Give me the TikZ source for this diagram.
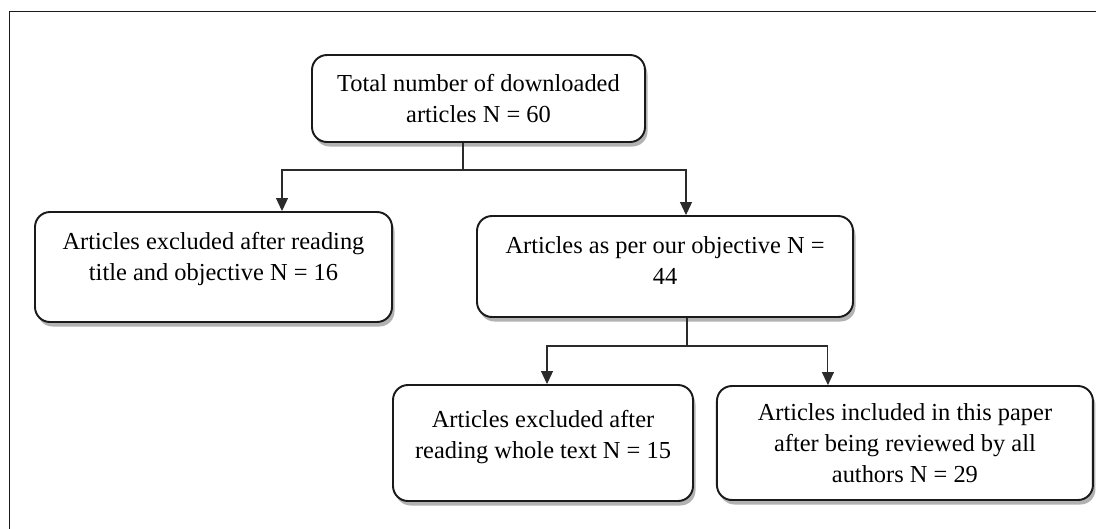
\documentclass[tikz,border=0pt]{standalone}
\usepackage{fontspec}
\setmainfont{Liberation Serif}
\usepackage{xcolor}
\usepackage{tikz}
\usetikzlibrary{positioning,arrows.meta,shadows}
\definecolor{edge}{HTML}{1A1A1A}
\definecolor{wire}{HTML}{2B2B2B}

\begin{document}
\begin{tikzpicture}[
    box/.style={draw=edge, line width=1.1pt, fill=white, rounded corners=3mm, align=center,
        font=\fontsize{13.9}{17.6}\selectfont, inner sep=0pt,
        drop shadow={shadow xshift=0.05cm, shadow yshift=-0.09cm, opacity=0.3, fill=black}},
    line/.style={draw=wire, line width=0.6pt},
    arr/.style={line, -{Triangle[length=2.6mm, width=2.4mm]}},
    frame/.style={draw=edge, line width=0.85pt}
]
    \useasboundingbox (0,0) rectangle (21.92,-10.56);
    \clip (0,0) rectangle (21.92,-10.56);

    % Outer frame (right and bottom run off the page)
    \draw[frame] (22.5,-0.23) -- (0.19,-0.23) -- (0.19,-11);

    % Boxes
    \node[box, minimum width=6.66cm, minimum height=1.74cm] (total) at (9.57,-1.97)
        {Total number of downloaded\\articles N = 60};
    \node[box, minimum width=7.14cm, minimum height=2.2cm, text depth=0.42cm] (excl1) at (4.27,-5.34)
        {Articles excluded after reading\\title and objective N = 16};
    \node[box, minimum width=7.52cm, minimum height=2.02cm, text depth=0.24cm] (asper) at (13.3,-5.33)
        {Articles as per our objective N =\\44};
    \node[box, minimum width=6.0cm, minimum height=2.32cm, text depth=0.34cm] (excl2) at (10.86,-8.86)
        {Articles excluded after\\reading whole text N = 15};
    \node[box, minimum width=7.52cm, minimum height=2.28cm, right=0.44cm of excl2] (incl)
        {Articles included in this paper\\after being reviewed by all\\authors N = 29};

    % Connections
    \draw[line] ([xshift=-0.31cm]total.south) -- ++(0,-0.54) coordinate (fork1);
    \draw[arr] (fork1) -| ([xshift=1.37cm]excl1.north);
    \draw[arr] (fork1) -| ([xshift=0.42cm]asper.north);

    \draw[line] ([xshift=0.44cm]asper.south) -- ++(0,-0.56) coordinate (fork2);
    \draw[arr] (fork2) -| ([xshift=0.08cm]excl2.north);
    \draw[arr] (fork2) -| ([xshift=-1.54cm]incl.north);
\end{tikzpicture}
\end{document}
